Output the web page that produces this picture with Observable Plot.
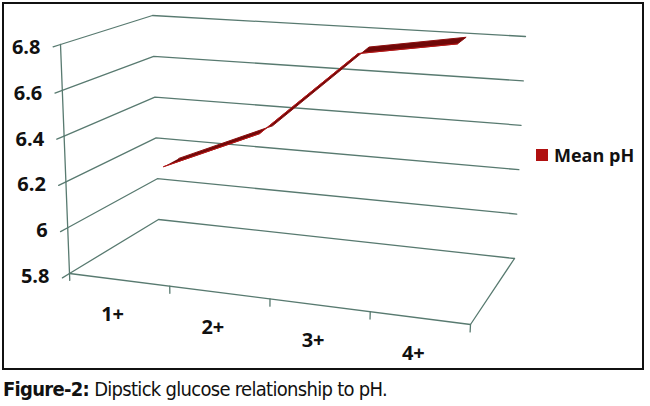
<!DOCTYPE html>
<html><head><meta charset="utf-8">
<script src="https://cdn.jsdelivr.net/npm/d3@7"></script>
<script src="https://cdn.jsdelivr.net/npm/@observablehq/plot@0.6"></script>
<style>
body{margin:0;background:#fff;width:650px;height:406px;position:relative;overflow:hidden;font-family:"Open Sans",sans-serif}
#box{position:absolute;left:2px;top:2px;width:638px;height:364px;border:2.5px solid #111;}
#chart{position:absolute;left:0;top:0}
#legend{position:absolute;left:536px;top:143px;display:flex;align-items:center;font-family:"Open Sans",sans-serif;font-weight:700;font-size:18px;color:#111}
#legend span.sw{display:inline-block;width:12px;height:12px;background:#b01010;margin-right:6px}
#cap{position:absolute;left:3px;top:377px;font-family:"Liberation Sans Narrow","DejaVu Sans Condensed",sans-serif;font-size:20px;letter-spacing:-0.7px;color:#111;white-space:nowrap}
</style></head><body>
<div id="box"></div><div id="chart"></div>
<div id="legend"><span class="sw"></span><span id="lgtext"></span></div>
<div id="cap"><b>Figure-2:</b> Dipstick glucose relationship to pH.</div>
<script>
const categories = ["1+", "2+", "3+", "4+"];
const meanPH = [6.18, 6.37, 6.76, 6.83];
const yTicks = [5.8, 6.0, 6.2, 6.4, 6.6, 6.8];
const yTickLabels = ["5.8", "6", "6.2", "6.4", "6.6", "6.8"];
const seriesName = "Mean pH";

document.getElementById("lgtext").textContent = seriesName;

// library scales: category position -> [0,1], value -> [0,1]
const xs = Plot.scale({x: {type: "linear", domain: [0, categories.length], range: [0, 1]}});
const ys = Plot.scale({y: {type: "linear", domain: [yTicks[0], yTicks[yTicks.length - 1]], range: [0, 1]}});

// pixel corners of the 3D box (layout)
const box = {
  bottom: {FL: [69, 273], FR: [470, 324], BL: [158, 219], BR: [514, 258]},
  top:    {FL: [60, 44],  FR: [483, 75],  BL: [152, 15],  BR: [525, 36]}
};
const lerp = (a, b, s) => [a[0] + (b[0] - a[0]) * s, a[1] + (b[1] - a[1]) * s];
function project(c, v, t) {
  const u = xs.apply(c), w = ys.apply(v);
  const layer = L => lerp(lerp(L.FL, L.FR, u), lerp(L.BL, L.BR, u), t);
  return lerp(layer(box.bottom), layer(box.top), w);
}
const pt = (c, v, t, k) => { const [x, y] = project(c, v, t); return {x, y, k}; };

const n = categories.length;
const vmin = yTicks[0], vmax = yTicks[yTicks.length - 1];

// gridlines on the walls
const grid = [];
yTicks.forEach((v, i) => {
  grid.push(pt(0, v, 0, "g" + i), pt(0, v, 1, "g" + i), pt(n, v, 1, "g" + i));
});
// floor front edges
grid.push(pt(n, vmin, 1, "f"), pt(n, vmin, 0, "f"), pt(0, vmin, 0, "f"));
// vertical axis
grid.push(pt(0, vmin, 0, "ax"), pt(0, vmax, 0, "ax"));
// y ticks
yTicks.forEach((v, i) => grid.push(pt(0, v, -0.08, "yt" + i), pt(0, v, 0, "yt" + i)));
// x ticks
d3.range(n + 1).forEach(i => grid.push(pt(i, vmin, 0, "xt" + i), pt(i, vmin - 0.03, 0, "xt" + i)));

// ribbon
const tBack = 0.73, tFront = 0.55;
const ribbon = [
  ...meanPH.map((v, i) => pt(i + 0.5, v, tBack, "r")),
  ...meanPH.map((v, i) => pt(i + 0.5, v, tFront, "r")).reverse()
];
const frontEdge = meanPH.map((v, i) => pt(i + 0.5, v, tFront, "fe"));

const xLabels = categories.map((c, i) => ({...pt(i + 0.5, vmin, 0), label: c}));
const yLabels = yTicks.map((v, i) => ({...pt(0, v, 0), label: yTickLabels[i]}));

const chart = Plot.plot({
  width: 650, height: 372,
  margin: 0,
  x: {type: "identity", axis: null},
  y: {type: "identity", axis: null},
  style: {background: "transparent"},
  marks: [
    Plot.line(grid, {x: "x", y: "y", z: "k", stroke: "#587a70", strokeWidth: 1.3, curve: "linear"}),
    Plot.line(ribbon, {x: "x", y: "y", fill: "#700808", stroke: "#8e0f0f", strokeWidth: 1, strokeLinejoin: "round"}),
    Plot.line(frontEdge, {x: "x", y: "y", stroke: "#c01818", strokeWidth: 1, strokeOpacity: 0.8}),
    Plot.text(xLabels, {x: "x", y: "y", text: "label", dx: -7, dy: 35, fontFamily: "Open Sans", fontWeight: 700, fontSize: 20, fill: "#111"}),
    Plot.text(yLabels, {x: "x", y: "y", text: "label", dx: -20, dy: 3, textAnchor: "end", fontFamily: "Open Sans", fontWeight: 700, fontSize: 20, fill: "#111"})
  ]
});
document.getElementById("chart").appendChild(chart);
</script>
</body></html>
